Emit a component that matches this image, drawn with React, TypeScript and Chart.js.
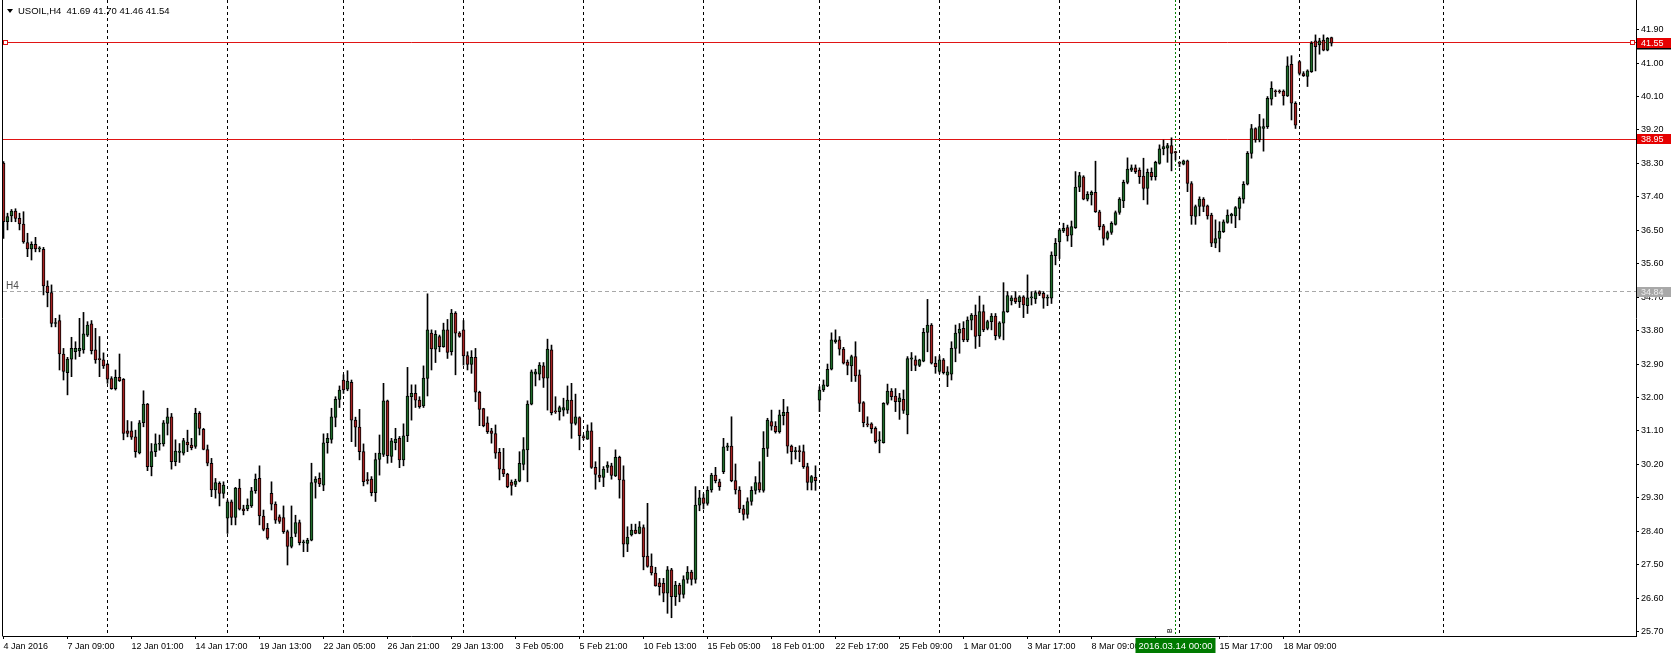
import React, { useEffect, useRef } from "react";
import { Chart, registerables } from "chart.js";

Chart.register(...registerables);

const FONT = "'Liberation Sans', Arial, sans-serif";

const titleText = "USOIL,H4  41.69 41.70 41.46 41.54";

const opens = [
38.31,36.73,36.89,37.02,36.82,36.67,36.17,36.00,36.12,36.00,
35.99,35.00,34.82,33.99,34.07,33.17,32.67,33.03,33.23,33.25,
33.28,33.68,33.98,33.28,33.03,33.01,32.89,32.51,32.24,32.54,
32.49,31.10,31.10,30.94,30.51,31.32,31.82,30.14,30.54,30.74,
30.75,31.30,31.48,30.27,30.52,30.50,30.80,30.72,30.68,31.57,
31.14,30.60,30.23,29.51,29.69,29.42,28.75,29.19,28.77,29.56,
29.00,29.00,29.08,29.49,29.82,28.81,28.48,29.42,29.13,28.79,
28.77,28.39,27.99,28.34,28.63,28.09,28.07,28.16,29.71,29.82,
29.64,30.78,30.87,31.46,31.95,32.47,32.22,32.41,31.39,31.20,
30.54,29.78,29.80,29.44,30.33,30.47,31.91,30.41,30.78,30.90,
30.32,30.97,32.02,32.11,31.93,31.77,32.51,33.73,33.30,33.64,
33.37,33.82,33.23,34.27,33.73,33.82,33.13,32.89,33.08,32.14,
31.70,31.32,31.10,31.03,30.52,30.07,29.94,29.72,29.66,29.75,
30.20,30.59,31.82,32.63,32.63,32.85,32.52,33.28,31.62,31.62,
31.66,31.66,31.93,31.30,31.46,30.93,30.88,31.10,30.12,29.91,
29.85,30.12,30.16,29.89,30.39,29.78,28.05,28.30,28.43,28.34,
28.50,27.73,27.46,27.27,27.01,27.00,26.73,27.36,26.64,26.95,
26.70,27.10,27.30,27.10,29.10,29.30,29.15,29.51,29.91,29.73,
30.00,30.66,30.69,29.76,29.51,29.00,28.85,29.20,29.50,29.71,
29.50,30.63,31.35,31.23,31.08,31.51,31.60,30.69,30.54,30.55,
30.54,30.14,29.71,29.85,31.93,32.20,32.31,32.76,33.50,33.55,
33.30,32.95,32.85,33.10,32.61,31.86,31.27,31.29,31.17,30.83,
30.78,31.84,32.17,32.04,31.89,31.95,31.53,33.03,33.01,32.86,
32.98,33.75,33.95,32.92,32.70,33.01,32.60,32.63,33.32,33.73,
33.86,33.55,34.08,34.22,33.66,34.31,33.86,34.04,34.19,33.64,
34.00,34.31,34.60,34.68,34.58,34.71,34.47,34.68,34.65,34.85,
34.80,34.67,34.67,35.82,36.19,36.48,36.57,36.37,36.57,37.66,
37.94,37.34,37.45,37.52,37.00,36.62,36.28,36.44,36.66,36.98,
37.29,37.79,38.12,38.18,38.12,37.96,37.63,38.06,37.94,38.30,
38.69,38.71,38.78,38.60,38.32,38.28,38.37,37.76,36.87,37.14,
37.34,37.16,36.91,36.15,36.28,36.46,36.71,36.89,36.89,37.09,
37.34,37.74,38.57,39.24,38.93,39.24,39.29,40.03,40.24,40.24,
40.25,40.12,40.97,39.92,41.04,40.72,40.64,40.77,41.60,41.49,
41.62,41.35,41.69
];

const highs = [
38.35,36.96,37.06,37.08,36.96,37.00,36.42,36.19,36.31,36.06,
36.04,35.14,35.03,34.13,34.22,33.32,33.08,33.62,33.50,34.13,
34.29,34.04,34.07,33.86,33.64,33.20,32.92,32.56,32.74,33.17,
32.51,31.38,31.35,31.12,31.38,32.18,31.84,30.76,31.02,30.99,
31.38,31.71,31.57,30.86,30.76,30.90,31.12,30.90,31.71,31.62,
31.17,30.72,30.36,29.82,29.73,29.73,29.24,29.24,29.58,29.80,
29.10,29.27,29.58,29.94,30.16,28.97,28.61,29.73,29.19,28.84,
29.08,28.43,29.08,28.83,28.70,28.16,28.21,30.23,29.87,29.97,
31.02,31.03,31.71,32.02,32.31,32.61,32.72,32.47,31.47,31.68,
30.75,29.98,29.87,30.50,30.99,32.38,31.93,30.90,31.17,30.95,
31.29,32.81,32.34,32.34,32.02,32.85,34.79,33.82,33.80,33.68,
34.00,34.10,34.37,34.31,33.77,34.07,33.23,33.26,33.32,32.17,
31.71,31.48,31.17,31.26,30.63,30.63,29.96,29.78,29.80,30.54,
30.92,31.91,32.74,32.76,32.94,32.94,33.57,33.41,32.02,31.77,
31.98,32.31,32.38,32.09,31.48,30.99,31.26,31.32,30.27,30.66,
30.14,30.27,30.23,30.59,30.42,30.16,28.52,28.59,28.59,28.66,
28.57,29.15,27.79,27.43,27.13,27.13,27.45,27.40,27.05,27.00,
27.20,27.45,27.35,29.60,29.50,29.40,29.60,29.96,30.12,29.80,
30.90,30.77,31.48,30.21,29.60,29.10,29.30,29.60,29.87,30.27,
31.08,31.44,31.66,31.35,31.66,31.95,31.75,30.72,30.66,30.70,
30.72,30.23,29.90,30.16,32.29,32.47,32.90,33.74,33.82,33.64,
33.35,33.01,33.14,33.50,32.74,31.89,31.48,31.32,31.21,31.08,
31.86,32.36,32.24,32.24,32.11,32.20,33.10,33.21,33.12,33.03,
33.86,34.64,33.99,33.10,33.12,33.05,32.83,33.50,33.95,33.99,
34.04,34.17,34.26,34.49,34.73,34.49,34.08,34.26,34.26,34.04,
35.09,34.85,34.74,34.85,34.74,34.74,35.30,34.85,34.87,34.87,
34.85,34.76,35.92,36.28,36.55,36.69,36.64,36.75,38.08,38.06,
37.97,37.54,37.56,38.36,37.04,36.66,36.48,36.73,37.02,37.38,
37.85,38.45,38.26,38.26,38.18,38.44,38.15,38.18,38.36,38.80,
38.93,38.84,38.99,38.63,38.35,38.39,38.39,37.81,37.18,37.40,
37.38,37.18,36.96,36.78,36.73,36.78,37.05,36.96,37.14,37.40,
37.81,38.62,39.35,39.26,39.62,39.50,40.10,40.50,40.28,40.28,
40.28,41.17,41.20,39.96,41.06,40.77,40.82,41.58,41.76,41.67,
41.76,41.69,41.70
];

const lows = [
36.28,36.51,36.73,36.73,36.51,36.15,35.79,35.70,35.92,35.92,
34.76,34.44,33.90,33.90,32.74,32.47,32.07,32.56,33.03,33.10,
33.19,33.64,33.17,32.92,32.56,32.78,32.38,32.22,32.20,32.43,
30.86,30.94,30.87,30.39,30.48,31.21,30.03,29.89,30.41,30.58,
30.69,30.99,30.07,30.16,30.25,30.45,30.54,30.59,30.63,30.99,
30.59,30.16,29.33,29.29,29.08,29.29,28.34,28.57,28.57,28.97,
28.84,28.95,29.04,29.42,28.57,28.41,28.18,28.97,28.61,28.61,
28.34,27.49,27.95,28.25,28.03,27.85,27.85,28.14,29.29,29.60,
29.49,30.50,30.77,31.21,31.73,32.11,32.18,30.81,30.68,30.32,
29.62,29.67,29.35,29.20,29.91,30.41,30.23,30.25,30.59,30.11,
30.16,30.81,31.39,31.73,31.71,31.73,32.04,32.74,32.94,33.23,
33.35,33.05,33.14,32.61,33.62,32.87,32.74,32.65,31.89,31.24,
31.21,31.03,30.77,30.36,29.78,29.87,29.57,29.37,29.60,29.73,
30.05,29.73,31.80,32.31,32.47,32.27,31.66,31.53,31.57,31.39,
31.50,31.57,30.90,31.26,30.59,30.86,30.87,30.09,29.53,29.73,
29.60,29.98,29.80,29.87,29.29,27.71,27.85,28.27,28.33,28.33,
27.36,27.43,27.22,26.92,26.68,26.50,26.19,26.07,26.40,26.50,
26.60,27.00,26.95,27.00,28.95,29.00,29.10,29.45,29.70,29.50,
29.95,30.57,29.73,29.40,28.90,28.70,28.75,29.10,29.40,29.45,
29.45,30.41,31.12,31.04,31.04,31.26,30.50,30.21,30.34,30.27,
30.09,29.51,29.51,29.50,31.62,32.16,32.29,32.74,33.46,33.14,
32.90,32.61,32.43,32.43,31.62,31.21,31.21,31.04,30.77,30.51,
30.77,31.80,31.93,31.62,31.41,31.57,31.02,32.72,32.72,32.83,
32.96,33.23,32.90,32.65,32.65,32.63,32.29,32.47,32.96,33.19,
33.50,33.50,33.82,33.32,33.37,33.77,33.82,33.82,33.55,33.59,
33.55,34.29,34.49,34.53,34.42,34.15,34.26,34.49,34.53,34.74,
34.40,34.47,34.53,35.57,35.74,36.44,36.21,36.06,36.55,37.54,
37.32,37.29,37.18,36.98,36.51,36.10,36.24,36.39,36.64,36.93,
37.11,37.75,38.08,38.03,37.76,37.32,37.20,37.85,37.85,38.28,
38.53,38.33,38.10,38.39,38.21,38.26,37.54,36.66,36.66,36.89,
37.00,36.80,36.06,36.03,35.92,36.44,36.69,36.69,36.57,36.78,
37.23,37.72,38.44,38.87,38.88,38.63,39.24,39.87,40.10,40.19,
39.87,40.10,39.47,39.24,40.68,40.64,40.37,40.75,40.79,41.24,
41.33,41.33,41.46
];

const closes = [
36.73,36.87,37.02,36.82,36.67,36.19,36.00,36.12,36.00,36.01,
35.00,34.82,33.99,34.01,33.17,32.70,33.03,33.32,33.32,33.32,
33.71,33.95,33.26,33.01,33.02,32.85,32.49,32.24,32.54,32.45,
31.03,31.03,30.93,30.54,31.32,31.82,30.14,30.54,30.75,30.75,
31.32,31.48,30.27,30.56,30.56,30.84,30.72,30.65,31.57,31.17,
30.60,30.23,29.51,29.71,29.42,29.64,29.19,28.77,29.56,28.99,
28.95,29.10,29.49,29.80,28.81,28.45,28.21,29.13,28.70,28.66,
28.39,27.99,28.24,28.63,28.09,28.10,28.16,29.71,29.80,29.67,
30.78,30.90,31.48,31.95,32.20,32.20,32.44,31.39,31.20,30.54,
29.73,29.76,29.44,30.33,30.50,31.91,30.43,30.83,30.88,30.32,
30.97,32.04,32.11,31.93,31.75,32.52,33.82,33.31,33.70,33.37,
33.82,33.21,34.27,33.73,33.64,33.12,32.89,33.08,32.14,31.68,
31.24,31.08,31.03,30.50,30.07,29.94,29.60,29.63,29.75,30.23,
30.60,31.82,32.69,32.69,32.87,32.52,33.30,31.59,31.61,31.73,
31.73,31.93,31.30,31.48,30.97,30.92,31.10,30.12,29.93,29.85,
30.07,30.18,29.90,30.39,29.78,28.05,28.24,28.43,28.34,28.52,
27.71,27.45,27.28,26.93,26.91,26.73,27.36,26.64,26.95,26.70,
27.10,27.30,27.10,29.10,29.30,29.15,29.50,29.91,29.76,29.60,
30.67,30.70,29.76,29.51,29.00,28.85,29.20,29.50,29.71,29.51,
30.63,31.39,31.23,31.08,31.53,31.60,30.69,30.54,30.55,30.54,
30.14,29.71,29.87,29.76,32.20,32.34,32.76,33.55,33.55,33.30,
32.92,32.86,33.10,32.58,31.84,31.32,31.26,31.16,30.81,30.84,
31.84,32.17,32.02,31.89,31.99,31.65,33.05,33.07,32.86,33.01,
33.75,33.95,32.92,32.83,33.01,32.67,32.69,33.32,33.73,33.84,
33.55,34.08,34.22,33.64,34.31,33.82,34.04,34.19,33.66,34.01,
34.31,34.74,34.68,34.58,34.71,34.49,34.68,34.71,34.82,34.78,
34.67,34.68,35.83,36.15,36.51,36.55,36.35,36.60,37.66,37.97,
37.34,37.47,37.52,37.00,36.60,36.28,36.44,36.69,36.98,37.34,
37.79,38.15,38.18,38.08,37.94,37.63,38.06,37.94,38.33,38.69,
38.75,38.78,38.57,38.59,38.30,38.37,37.76,36.89,37.14,37.34,
37.14,36.89,36.15,36.28,36.48,36.73,36.91,36.93,37.11,37.36,
37.74,38.57,39.24,38.93,39.29,39.29,40.05,40.32,40.23,40.23,
40.12,40.93,39.92,39.33,40.72,40.66,40.79,41.53,41.44,41.60,
41.35,41.67,41.54
];

const priceTicks = [25.7, 26.6, 27.5, 28.4, 29.3, 30.2, 31.1, 32.0, 32.9, 33.8, 34.7, 35.6, 36.5, 37.4, 38.3, 39.2, 40.1, 41.0, 41.9];

const timeTickBars = [0, 16, 32, 48, 64, 80, 96, 112, 128, 144, 160, 176, 192, 208, 224, 240, 256, 272, 288, 304, 320];
const timeTickLabels = [
  "4 Jan 2016", "7 Jan 09:00", "12 Jan 01:00", "14 Jan 17:00", "19 Jan 13:00", "22 Jan 05:00",
  "26 Jan 21:00", "29 Jan 13:00", "3 Feb 05:00", "5 Feb 21:00", "10 Feb 13:00", "15 Feb 05:00",
  "18 Feb 01:00", "22 Feb 17:00", "25 Feb 09:00", "1 Mar 01:00", "3 Mar 17:00", "8 Mar 09:00",
  "", "15 Mar 17:00", "18 Mar 09:00"
];

const weekGridBars = [26, 56, 85, 115, 145, 175, 204, 234, 264, 294, 324, 360];
const levelLines = [41.55, 38.95];
const periodLevel = 34.84;
const periodLabel = "H4";
const lastClose = 41.54;
const markerBar = 293;
const markerLabel = "2016.03.14 00:00";

const Y_MIN = 25.579;
const Y_MAX = 42.699;
const X_MIN = -0.125;
const X_MAX = 408.125;

const GREEN = "#1f6b2a";
const RED = "#a52222";
const LINE_RED = "#e01414";

const overlay = {
  id: "mtOverlay",
  beforeDatasetsDraw(chart: any) {
    const { ctx, chartArea: a, scales } = chart;
    const xs = scales.x;
    const ys = scales.y;
    ctx.save();
    ctx.beginPath();
    ctx.rect(a.left, a.top, a.right - a.left, a.bottom - a.top);
    ctx.clip();
    ctx.lineWidth = 1;
    const vline = (x: number) => {
      ctx.beginPath();
      ctx.moveTo(x, a.top);
      ctx.lineTo(x, a.bottom);
      ctx.stroke();
    };
    const hline = (y: number) => {
      ctx.beginPath();
      ctx.moveTo(a.left, y);
      ctx.lineTo(a.right, y);
      ctx.stroke();
    };
    ctx.strokeStyle = "#000";
    ctx.setLineDash([3, 3]);
    for (const b of weekGridBars) vline(Math.floor(xs.getPixelForValue(b)) + 0.5);
    ctx.strokeStyle = "#008000";
    ctx.setLineDash([2, 2]);
    vline(Math.floor(xs.getPixelForValue(markerBar)) + 0.5);
    const yp = Math.floor(ys.getPixelForValue(periodLevel)) + 0.5;
    ctx.strokeStyle = "#a8a8a8";
    ctx.setLineDash([4, 3]);
    hline(yp);
    ctx.setLineDash([]);
    ctx.fillStyle = "#505050";
    ctx.font = `10px ${FONT}`;
    ctx.textBaseline = "alphabetic";
    ctx.textAlign = "left";
    ctx.fillText(periodLabel, 6, yp - 3);
    ctx.strokeStyle = LINE_RED;
    for (const lv of levelLines) hline(Math.floor(ys.getPixelForValue(lv)) + 0.5);
    ctx.restore();
  },
  afterDraw(chart: any) {
    const { ctx, chartArea: a, scales } = chart;
    const xs = scales.x;
    const ys = scales.y;
    ctx.save();
    ctx.lineWidth = 1;
    ctx.strokeStyle = "#000";
    ctx.beginPath();
    ctx.moveTo(2.5, 0);
    ctx.lineTo(2.5, a.bottom + 0.5);
    ctx.stroke();

    // title
    ctx.fillStyle = "#000";
    ctx.beginPath();
    ctx.moveTo(7, 9);
    ctx.lineTo(13, 9);
    ctx.lineTo(10, 13);
    ctx.closePath();
    ctx.fill();
    ctx.font = `9.5px ${FONT}`;
    ctx.textAlign = "left";
    ctx.textBaseline = "alphabetic";
    ctx.fillText(titleText, 18, 14);

    // square anchors on the top level line
    const yTop = Math.floor(ys.getPixelForValue(levelLines[0])) + 0.5;
    ctx.fillStyle = "#fff";
    ctx.strokeStyle = LINE_RED;
    ctx.fillRect(3.5, yTop - 2, 4, 4);
    ctx.strokeRect(3.5, yTop - 2, 4, 4);
    ctx.fillRect(a.right - 5.5, yTop - 2, 4, 4);
    ctx.strokeRect(a.right - 5.5, yTop - 2, 4, 4);

    // price boxes on axis
    const box = (price: number, bg: string, fg: string, text: string, dy = 0) => {
      const y = Math.round(ys.getPixelForValue(price)) + dy;
      ctx.fillStyle = bg;
      ctx.fillRect(a.right + 1, y - 5, 34, 10);
      ctx.fillStyle = fg;
      ctx.font = `9px ${FONT}`;
      ctx.textBaseline = "middle";
      ctx.textAlign = "left";
      ctx.fillText(text, a.right + 5, y + 0.5);
    };
    box(lastClose, "#000", "#fff", lastClose.toFixed(2), 1.5);
    box(levelLines[0], "#e60000", "#fff", levelLines[0].toFixed(2));
    box(levelLines[1], "#e60000", "#fff", levelLines[1].toFixed(2));
    box(periodLevel, "#a8a8a8", "#eeeeee", periodLevel.toFixed(2));

    // marker date box
    const mx = Math.floor(xs.getPixelForValue(markerBar)) + 0.5;
    ctx.fillStyle = "#007a00";
    ctx.fillRect(mx - 40, a.bottom + 2, 80, 15);
    ctx.fillStyle = "#fff";
    ctx.font = `9.5px ${FONT}`;
    ctx.textAlign = "center";
    ctx.textBaseline = "middle";
    ctx.fillText(markerLabel, mx, a.bottom + 10);

    // small rotated marker text
    ctx.save();
    ctx.translate(mx - 5, a.bottom - 3);
    ctx.rotate(-Math.PI / 2);
    ctx.fillStyle = "#000";
    ctx.font = `7px ${FONT}`;
    ctx.textAlign = "left";
    ctx.textBaseline = "middle";
    ctx.fillText("B", 0, 0);
    ctx.restore();
    ctx.restore();
  },
};

export default function App() {
  const ref = useRef<HTMLCanvasElement | null>(null);

  useEffect(() => {
    const canvas = ref.current;
    if (!canvas) return;
    const bodies = opens.map((o, i) => ({ x: i, y: [o, closes[i]] }));
    const wicks = highs.map((h, i) => ({ x: i, y: [lows[i], h] }));
    const bodyColors = opens.map((o, i) => (closes[i] > o ? GREEN : closes[i] < o ? RED : "#000"));
    const labelByBar = new Map<number, string>();
    timeTickBars.forEach((b, i) => labelByBar.set(b, timeTickLabels[i]));

    const chart = new Chart(canvas, {
      type: "bar",
      data: {
        datasets: [
          {
            label: "body",
            data: bodies as any,
            backgroundColor: bodyColors,
            borderColor: "#000",
            borderWidth: 1,
            borderSkipped: false,
            barThickness: 3,
            minBarLength: 1,
            grouped: false,
            order: 1,
          } as any,
          {
            label: "wick",
            data: wicks as any,
            backgroundColor: "#000",
            borderWidth: 0,
            barThickness: 1,
            grouped: false,
            order: 2,
          } as any,
        ],
      },
      options: {
        responsive: false,
        animation: false,
        devicePixelRatio: 1,
        layout: { padding: { left: 3, right: 0, top: 0, bottom: 0 } },
        plugins: { legend: { display: false }, tooltip: { enabled: false } },
        events: [],
        scales: {
          x: {
            type: "linear",
            min: X_MIN,
            max: X_MAX,
            offset: false,
            afterBuildTicks: (s: any) => {
              s.ticks = timeTickBars.map((v) => ({ value: v }));
            },
            afterFit: (s: any) => {
              s.height = 21;
              s.paddingLeft = 0;
              s.paddingRight = 0;
            },
            grid: { drawOnChartArea: false, drawTicks: true, tickLength: 3, color: "#000", tickColor: "#000", offset: false },
            border: { display: true, color: "#000" },
            ticks: {
              align: "start",
              maxRotation: 0,
              minRotation: 0,
              autoSkip: false,
              color: "#000",
              font: { family: FONT, size: 9 },
              padding: 2,
              callback: (v: any) => labelByBar.get(Number(v)) ?? "",
            },
          } as any,
          y: {
            position: "right",
            min: Y_MIN,
            max: Y_MAX,
            afterBuildTicks: (s: any) => {
              s.ticks = priceTicks.map((v) => ({ value: v }));
            },
            afterFit: (s: any) => {
              s.width = 40;
              s.paddingTop = 0;
              s.paddingBottom = 0;
            },
            grid: { drawOnChartArea: false, drawTicks: true, tickLength: 3, color: "#000", tickColor: "#000" },
            border: { display: true, color: "#000" },
            ticks: {
              autoSkip: false,
              color: "#000",
              font: { family: FONT, size: 9 },
              padding: 2,
              callback: (v: any) => Number(v).toFixed(2),
            },
          } as any,
        },
      },
      plugins: [overlay],
    });
    return () => chart.destroy();
  }, []);

  return (
    <div style={{ position: "fixed", left: 0, top: 0, width: 1676, height: 657, background: "#fff" }}>
      <canvas ref={ref} width={1676} height={657} style={{ display: "block", width: 1676, height: 657 }} />
    </div>
  );
}
